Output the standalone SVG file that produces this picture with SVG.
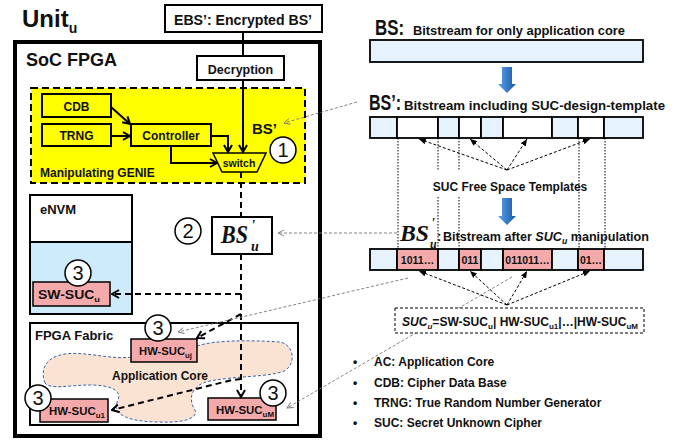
<svg xmlns="http://www.w3.org/2000/svg" width="682" height="441" viewBox="0 0 682 441">
<defs>
<style>
.b{font-family:"Liberation Sans",Arial,sans-serif;font-weight:bold;fill:#111}
.tb{font-family:"Liberation Serif","Times New Roman",serif;font-weight:bold;font-style:italic;fill:#111}
.m{text-anchor:middle}
.box{fill:#fff;stroke:#000;stroke-width:2}
.yb{fill:#FFFF00;stroke:#000;stroke-width:2}
.pink{fill:#F4AAAA;stroke:#000;stroke-width:1.5}
.circ{fill:#fff;stroke:#000;stroke-width:1.5}
.num{font-family:"Liberation Sans",Arial,sans-serif;font-size:20px;text-anchor:middle;fill:#111}
.thick{stroke:#000;stroke-width:2;fill:none}
.dthick{stroke:#000;stroke-width:2;fill:none;stroke-dasharray:6,4}
.dthin{stroke:#000;stroke-width:1;fill:none;stroke-dasharray:3,2}
.dot{stroke:#000;stroke-width:1;fill:none;stroke-dasharray:1.5,1.5}
.gray{stroke:#777;stroke-width:0.9;fill:none;stroke-dasharray:3,2}
.lb{fill:#E6F3FC;stroke:#000;stroke-width:1.8}
.wh{fill:#fff;stroke:#000;stroke-width:1.8}
.pk{fill:#F4AAAA;stroke:#000;stroke-width:1.8}
</style>
<marker id="ah" markerUnits="userSpaceOnUse" markerWidth="10" markerHeight="10" refX="9" refY="5" orient="auto"><path d="M2,1 L9,5 L2,9" fill="none" stroke="#000" stroke-width="2"/></marker>
<marker id="as" markerUnits="userSpaceOnUse" markerWidth="8" markerHeight="6" refX="7" refY="3" orient="auto"><path d="M0,0 L7,3 L0,6 Z" fill="#000"/></marker>
<marker id="ag" markerUnits="userSpaceOnUse" markerWidth="8" markerHeight="8" refX="7" refY="4" orient="auto"><path d="M1,1 L7,4 L1,7" fill="none" stroke="#777" stroke-width="0.9"/></marker>
<linearGradient id="blu" x1="0" y1="0" x2="1" y2="0"><stop offset="0" stop-color="#5DA2E6"/><stop offset="1" stop-color="#1558AA"/></linearGradient>
</defs>

<g id="title"><text class="b" x="22" y="27" font-size="24">Unit<tspan font-size="14" dy="6">u</tspan></text></g>

<g id="soc">
<rect x="15" y="42" width="305" height="394" fill="#fff" stroke="#000" stroke-width="4"/>
<text class="b" x="26" y="66" font-size="18">SoC FPGA</text>
</g>

<g id="ebs"><rect class="box" x="165" y="5" width="157" height="27"/><text class="b m" x="243" y="25" font-size="14" textLength="138" lengthAdjust="spacingAndGlyphs">EBS’: Encrypted  BS’</text></g>

<g id="decryption"><rect class="box" x="197" y="56" width="87" height="24"/><text class="b m" x="240.5" y="74" font-size="12.5">Decryption</text></g>

<g id="genie">
<rect x="31" y="88" width="274" height="95" fill="#FFFF00" stroke="#000" stroke-width="2" stroke-dasharray="7,4"/>
<text class="b" x="40" y="177" font-size="12">Manipulating GENIE</text>
<text class="b" x="252" y="134" font-size="15">BS’</text>
</g>
<g id="cdb"><rect class="yb" x="42" y="94" width="69" height="23"/><text class="b m" x="76.5" y="111" font-size="12">CDB</text></g>
<g id="trng"><rect class="yb" x="42" y="124" width="69" height="22"/><text class="b m" x="76.5" y="140" font-size="12">TRNG</text></g>
<g id="controller"><rect class="yb" x="131" y="124" width="80" height="22"/><text class="b m" x="171" y="140" font-size="12">Controller</text></g>
<g id="switch"><polygon points="213,153 266,153 257,172 222,172" fill="#FFFF00" stroke="#000" stroke-width="1.5"/><text class="b m" x="239" y="167" font-size="10.5">switch</text></g>
<g id="c1"><circle class="circ" cx="283" cy="150" r="13"/><text class="num" x="283" y="157">1</text></g>

<g id="envm">
<rect x="30" y="195" width="102" height="47" class="box"/>
<rect x="30" y="242" width="102" height="72" fill="#CDEBFA" stroke="#000" stroke-width="2"/>
<text class="b" x="40" y="214" font-size="13">eNVM</text>
</g>
<g id="swsuc"><rect class="pink" x="33" y="282" width="77" height="24"/><text class="b" x="38" y="299" font-size="12" textLength="62" lengthAdjust="spacingAndGlyphs">SW-SUC<tspan font-size="8" dy="3">u</tspan></text></g>
<g id="c3a"><circle class="circ" cx="78" cy="273" r="13"/><text class="num" x="78" y="280">3</text></g>

<g id="bsu"><rect class="box" x="212" y="217" width="60" height="37"/>
<text class="tb" x="221" y="243" font-size="26" textLength="27" lengthAdjust="spacingAndGlyphs">BS</text>
<text class="tb" x="251" y="230" font-size="15">'</text>
<text class="tb" x="251" y="251" font-size="14">u</text></g>
<g id="c2"><circle class="circ" cx="188" cy="231" r="13"/><text class="num" x="188" y="238">2</text></g>

<g id="fabric">
<rect class="box" x="30" y="323" width="268" height="102"/>
<text class="b" x="35" y="340" font-size="13">FPGA Fabric</text>
</g>
<g id="appcore">
<path d="M45,383 C40,370 45,357 65,354 C85,351 110,360 132,357 L197,346 C215,340 250,340 280,342 C295,345 296,365 284,371 C270,377 235,376 210,381 C190,385 188,400 195,410 C198,418 185,423 160,422 C130,422 110,415 118,400 C122,390 110,385 90,385 C70,385 50,390 45,383 Z" fill="#FBE3D3" stroke="#3B64A8" stroke-width="1" stroke-dasharray="3,2"/>
<text class="b m" x="160" y="380" font-size="12">Application Core</text>
</g>
<g id="hwsucj"><rect class="pink" x="131" y="339" width="66" height="23"/><text class="b" x="139" y="355" font-size="11.5" textLength="53" lengthAdjust="spacingAndGlyphs">HW-SUC<tspan font-size="8" dy="3">uj</tspan></text></g>
<g id="c3b"><circle class="circ" cx="158" cy="328" r="13"/><text class="num" x="158" y="335">3</text></g>
<g id="hwsuc1"><rect class="pink" x="40" y="399" width="68" height="23"/><text class="b" x="49" y="415" font-size="11.5" textLength="56" lengthAdjust="spacingAndGlyphs">HW-SUC<tspan font-size="8" dy="3">u1</tspan></text></g>
<g id="c3c"><circle class="circ" cx="38" cy="398" r="13"/><text class="num" x="38" y="405">3</text></g>
<g id="hwsucm"><rect class="pink" x="208" y="398" width="68" height="22"/><text class="b" x="216" y="414" font-size="11.5" textLength="58" lengthAdjust="spacingAndGlyphs">HW-SUC<tspan font-size="8" dy="3">uM</tspan></text></g>
<g id="c3d"><circle class="circ" cx="273" cy="393" r="13"/><text class="num" x="273" y="400">3</text></g>

<g id="connectors">
<line class="thick" x1="243" y1="32" x2="243" y2="56"/>
<line class="thick" x1="243" y1="80" x2="243" y2="152" marker-end="url(#ah)"/>
<line class="thick" x1="111" y1="107" x2="130" y2="124" marker-end="url(#ah)"/>
<line class="thick" x1="111" y1="136" x2="130" y2="136" marker-end="url(#ah)"/>
<polyline class="thick" points="211,136 228,136 228,152" marker-end="url(#ah)"/>
<polyline class="thick" points="171,146 171,163 217,163" marker-end="url(#ah)"/>
<line class="dthick" x1="241" y1="172" x2="241" y2="217"/>
<line class="dthick" x1="241" y1="254" x2="241" y2="397" marker-end="url(#ah)"/>
<line class="dthick" x1="241" y1="294" x2="112" y2="294" marker-end="url(#ah)"/>
<line class="dthick" x1="241" y1="314" x2="197" y2="338" marker-end="url(#ah)"/>
<polyline class="dthick" points="241,379 232,380 112,410" marker-end="url(#ah)"/>
<line class="gray" x1="357" y1="102" x2="284" y2="123" marker-end="url(#ag)"/>
<line class="gray" x1="397" y1="233" x2="278" y2="233" marker-end="url(#ag)"/>
<line class="gray" x1="408" y1="278" x2="178" y2="332" marker-end="url(#ag)"/>
<line class="gray" x1="512" y1="277" x2="287" y2="408" marker-end="url(#ag)"/>
<line class="dot" x1="398" y1="138" x2="398" y2="249"/>
<line class="dot" x1="438" y1="138" x2="438" y2="171"/>
<line class="dot" x1="438" y1="197" x2="438" y2="249"/>
<line class="dot" x1="459" y1="138" x2="459" y2="171"/>
<line class="dot" x1="459" y1="197" x2="459" y2="249"/>
<line class="dot" x1="579" y1="138" x2="579" y2="249"/>
<line class="dot" x1="605" y1="138" x2="605" y2="249"/>
<line class="dthin" x1="507" y1="170" x2="419" y2="139" marker-end="url(#as)"/>
<line class="dthin" x1="507" y1="170" x2="470" y2="139" marker-end="url(#as)"/>
<line class="dthin" x1="507" y1="170" x2="527" y2="139" marker-end="url(#as)"/>
<line class="dthin" x1="507" y1="170" x2="590" y2="139" marker-end="url(#as)"/>
<line class="dthin" x1="507" y1="305" x2="419" y2="271" marker-end="url(#as)"/>
<line class="dthin" x1="507" y1="305" x2="470" y2="271" marker-end="url(#as)"/>
<line class="dthin" x1="507" y1="305" x2="527" y2="271" marker-end="url(#as)"/>
<line class="dthin" x1="507" y1="305" x2="590" y2="271" marker-end="url(#as)"/>
</g>

<g id="bs">
<text class="b" x="375" y="35" font-size="22" textLength="29" lengthAdjust="spacingAndGlyphs">BS:</text>
<text class="b" x="413" y="35" font-size="13" textLength="212" lengthAdjust="spacingAndGlyphs">Bitstream for only application core</text>
<rect class="lb" x="370" y="40" width="273" height="22"/>
</g>
<g id="arrow1"><polygon points="502,67 512,67 512,84 516,84 507,93 498,84 502,84" fill="url(#blu)"/></g>

<g id="bsprime">
<text class="b" x="369" y="110" font-size="22" textLength="32" lengthAdjust="spacingAndGlyphs">BS’:</text>
<text class="b" x="404" y="110" font-size="13" textLength="261" lengthAdjust="spacingAndGlyphs">Bitstream including SUC-design-template</text>
<rect class="lb" x="370" y="117" width="27" height="21"/>
<rect class="wh" x="397" y="117" width="41" height="21"/>
<rect class="lb" x="438" y="117" width="21" height="21"/>
<rect class="wh" x="459" y="117" width="22" height="21"/>
<rect class="lb" x="481" y="117" width="22" height="21"/>
<rect class="wh" x="503" y="117" width="49" height="21"/>
<rect class="lb" x="552" y="117" width="26" height="21"/>
<rect class="wh" x="578" y="117" width="26" height="21"/>
<rect class="lb" x="604" y="117" width="39" height="21"/>
</g>
<g id="templates"><text class="b m" x="510" y="191" font-size="12">SUC Free Space Templates</text></g>
<g id="arrow2"><polygon points="502,198 512,198 512,216 516,216 507,225 498,216 502,216" fill="url(#blu)"/></g>

<g id="bsu-stream">
<text class="tb" x="400" y="241" font-size="24" textLength="29" lengthAdjust="spacingAndGlyphs">BS</text>
<text class="tb" x="431" y="228" font-size="14">'</text>
<text class="tb" x="430" y="248" font-size="12">u</text>
<text class="b" x="437" y="241" font-size="13">:</text>
<text class="b" x="443" y="241" font-size="13" textLength="206" lengthAdjust="spacingAndGlyphs">Bitstream after <tspan font-style="italic">SUC</tspan><tspan font-style="italic" font-size="9" dy="3">u</tspan><tspan dy="-3"> manipulation</tspan></text>
<rect class="lb" x="370" y="249" width="27" height="21"/>
<rect class="pk" x="397" y="249" width="41" height="21"/>
<rect class="lb" x="438" y="249" width="21" height="21"/>
<rect class="pk" x="459" y="249" width="22" height="21"/>
<rect class="lb" x="481" y="249" width="22" height="21"/>
<rect class="pk" x="503" y="249" width="49" height="21"/>
<rect class="lb" x="552" y="249" width="26" height="21"/>
<rect class="pk" x="578" y="249" width="26" height="21"/>
<rect class="lb" x="604" y="249" width="39" height="21"/>
<text class="b m" x="417.5" y="264" font-size="10.5">1011…</text>
<text class="b m" x="470" y="264" font-size="10.5">011</text>
<text class="b m" x="527.5" y="264" font-size="10.5">011011…</text>
<text class="b m" x="591" y="264" font-size="10.5">01…</text>
</g>

<g id="sucbox">
<rect x="395" y="308" width="249" height="25" fill="#fff" stroke="#000" stroke-width="1" stroke-dasharray="3,2"/>
<text class="b" x="402" y="326" font-size="12" textLength="236" lengthAdjust="spacingAndGlyphs"><tspan font-style="italic">SUC</tspan><tspan font-style="italic" font-size="8" dy="3">u</tspan><tspan dy="-3">=SW-SUC</tspan><tspan font-size="8" dy="3">u</tspan><tspan dy="-3">| HW-SUC</tspan><tspan font-size="8" dy="3">u1</tspan><tspan dy="-3">|…|HW-SUC</tspan><tspan font-size="8" dy="3">uM</tspan></text>
</g>

<g id="legend">
<text class="b" x="353" y="366" font-size="12">•</text><text class="b" x="374" y="366" font-size="12">AC: Application Core</text>
<text class="b" x="353" y="386.5" font-size="12">•</text><text class="b" x="374" y="386.5" font-size="12">CDB: Cipher Data Base</text>
<text class="b" x="353" y="407" font-size="12">•</text><text class="b" x="374" y="407" font-size="12">TRNG: True Random Number Generator</text>
<text class="b" x="353" y="427" font-size="12">•</text><text class="b" x="374" y="427" font-size="12">SUC: Secret Unknown Cipher</text>
</g>
</svg>
